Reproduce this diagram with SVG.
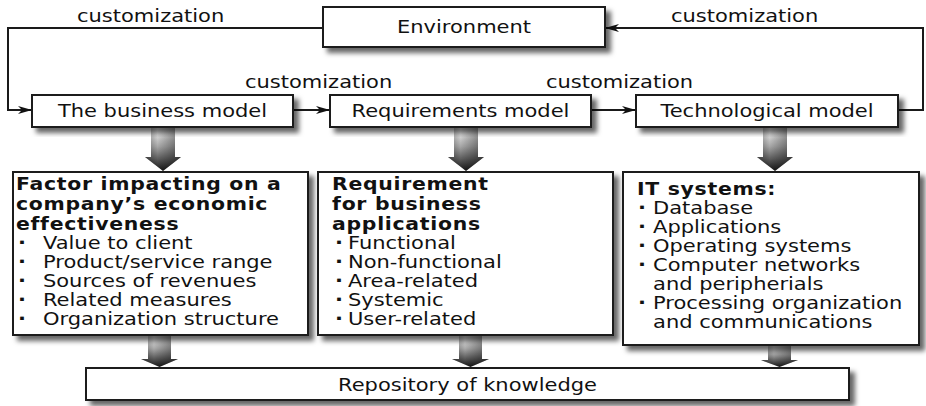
<svg xmlns="http://www.w3.org/2000/svg" width="926" height="406" viewBox="0 0 926 406">
  <defs>
    <filter id="shadow" x="-5%" y="-20%" width="115%" height="150%">
      <feGaussianBlur in="SourceAlpha" stdDeviation="2.5"/>
      <feOffset dx="5" dy="5" result="blur"/>
      <feFlood flood-color="#000" flood-opacity="0.6"/>
      <feComposite in2="blur" operator="in"/>
      <feMerge>
        <feMergeNode/>
        <feMergeNode in="SourceGraphic"/>
      </feMerge>
    </filter>
    <linearGradient id="flowV" x1="0" y1="0" x2="0" y2="1">
      <stop offset="0" stop-color="#ffffff"/>
      <stop offset="0.45" stop-color="#a8a8a8"/>
      <stop offset="1" stop-color="#151515"/>
    </linearGradient>
    <linearGradient id="flowH" x1="0" y1="0" x2="1" y2="0">
      <stop offset="0" stop-color="#000" stop-opacity="0.35"/>
      <stop offset="0.35" stop-color="#000" stop-opacity="0"/>
      <stop offset="1" stop-color="#000" stop-opacity="0.45"/>
    </linearGradient>
    <marker id="head" markerWidth="14" markerHeight="10" refX="14" refY="5" orient="auto" markerUnits="userSpaceOnUse">
      <path d="M0,1 L14,5 L0,9 L4,5 Z" fill="#111"/>
    </marker>
  </defs>
  <style>
    .box { fill: #fff; stroke: #1a1a1a; stroke-width: 2; filter: url(#shadow); }
    .wire { fill: none; stroke: #1a1a1a; stroke-width: 2; marker-end: url(#head); }
    .flow { fill: url(#flowV); }
    .flow-shade { fill: url(#flowH); }
    text { font-family: "DejaVu Sans", Verdana, sans-serif; font-size: 17.5px; fill: #111; }
    .mid { text-anchor: middle; }
    .head { font-weight: bold; font-size: 17px; letter-spacing: 0.6px; }
    .dot { font-weight: bold; }
  </style>

  <!-- downward flow arrows (drawn under the boxes) -->
  <g id="flows">
    <path class="flow" d="M151,126 H175 V157 H181 L163,171 L145,157 H151 Z"/>
    <path class="flow-shade" d="M151,126 H175 V157 H181 L163,171 L145,157 H151 Z"/>
    <path class="flow" d="M454,126 H478 V157 H484 L466,171 L448,157 H454 Z"/>
    <path class="flow-shade" d="M454,126 H478 V157 H484 L466,171 L448,157 H454 Z"/>
    <path class="flow" d="M763,126 H787 V157 H793 L775,171 L757,157 H763 Z"/>
    <path class="flow-shade" d="M763,126 H787 V157 H793 L775,171 L757,157 H763 Z"/>
    <path class="flow" d="M148,334 H171 V359 H178 L159.5,367 L141,359 H148 Z"/>
    <path class="flow-shade" d="M148,334 H171 V359 H178 L159.5,367 L141,359 H148 Z"/>
    <path class="flow" d="M459,334 H482 V359 H489 L470.5,367 L452,359 H459 Z"/>
    <path class="flow-shade" d="M459,334 H482 V359 H489 L470.5,367 L452,359 H459 Z"/>
    <path class="flow" d="M768,344 H791 V360 H798 L779.5,367 L761,360 H768 Z"/>
    <path class="flow-shade" d="M768,344 H791 V360 H798 L779.5,367 L761,360 H768 Z"/>
  </g>

  <!-- customization connectors -->
  <g id="connectors">
    <path class="wire" d="M323,28 H8 V110 H32"/>
    <path class="wire" d="M898,110 H923 V28 H605"/>
    <path class="wire" d="M293,110 H330"/>
    <path class="wire" d="M591,110 H636"/>
  </g>

  <g id="environment">
    <rect class="box" x="323" y="7" width="282" height="40"/>
  </g>
  <g id="business-model">
    <rect class="box" x="32" y="95" width="261" height="32"/>
  </g>
  <g id="requirements-model">
    <rect class="box" x="330" y="95" width="261" height="32"/>
  </g>
  <g id="technological-model">
    <rect class="box" x="636" y="95" width="262" height="32"/>
  </g>
  <g id="effectiveness-factors">
    <rect class="box" x="13" y="172" width="295" height="163"/>
  </g>
  <g id="business-requirements">
    <rect class="box" x="318" y="172" width="295" height="163"/>
  </g>
  <g id="it-systems">
    <rect class="box" x="623" y="172" width="296" height="173"/>
  </g>
  <g id="repository">
    <rect class="box" x="86" y="368" width="763" height="32"/>
  </g>

  <!-- all labels share a horizontal stretch; x values are pre-divided by 1.2 -->
  <g id="labels" transform="scale(1.2,1)">
    <text x="64.2" y="22">customization</text>
    <text x="559.2" y="22">customization</text>
    <text x="204.2" y="88">customization</text>
    <text x="455" y="88">customization</text>

    <text class="mid" x="386.7" y="33">Environment</text>
    <text class="mid" x="135.4" y="117">The business model</text>
    <text class="mid" x="383.75" y="117">Requirements model</text>
    <text class="mid" x="639.2" y="117">Technological model</text>
    <text class="mid" x="389.6" y="391">Repository of knowledge</text>

    <text class="head" x="13.3" y="190">Factor impacting on a</text>
    <text class="head" x="13.3" y="210">company’s economic</text>
    <text class="head" x="13.3" y="230">effectiveness</text>
    <text y="249"><tspan class="dot" x="15">·</tspan><tspan x="35.8">Value to client</tspan></text>
    <text y="268"><tspan class="dot" x="15">·</tspan><tspan x="35.8">Product/service range</tspan></text>
    <text y="287"><tspan class="dot" x="15">·</tspan><tspan x="35.8">Sources of revenues</tspan></text>
    <text y="306"><tspan class="dot" x="15">·</tspan><tspan x="35.8">Related measures</tspan></text>
    <text y="325"><tspan class="dot" x="15">·</tspan><tspan x="35.8">Organization structure</tspan></text>

    <text class="head" x="276.7" y="190">Requirement</text>
    <text class="head" x="276.7" y="210">for business</text>
    <text class="head" x="276.7" y="230">applications</text>
    <text y="249"><tspan class="dot" x="279.2">·</tspan><tspan x="290">Functional</tspan></text>
    <text y="268"><tspan class="dot" x="279.2">·</tspan><tspan x="290">Non-functional</tspan></text>
    <text y="287"><tspan class="dot" x="279.2">·</tspan><tspan x="290">Area-related</tspan></text>
    <text y="306"><tspan class="dot" x="279.2">·</tspan><tspan x="290">Systemic</tspan></text>
    <text y="325"><tspan class="dot" x="279.2">·</tspan><tspan x="290">User-related</tspan></text>

    <text class="head" x="530.8" y="195">IT systems:</text>
    <text y="214"><tspan class="dot" x="531.7">·</tspan><tspan x="544.2">Database</tspan></text>
    <text y="233"><tspan class="dot" x="531.7">·</tspan><tspan x="544.2">Applications</tspan></text>
    <text y="252"><tspan class="dot" x="531.7">·</tspan><tspan x="544.2">Operating systems</tspan></text>
    <text y="271"><tspan class="dot" x="531.7">·</tspan><tspan x="544.2">Computer networks</tspan></text>
    <text x="544.2" y="290">and peripherials</text>
    <text y="309"><tspan class="dot" x="531.7">·</tspan><tspan x="544.2">Processing organization</tspan></text>
    <text x="544.2" y="328">and communications</text>
  </g>
</svg>
